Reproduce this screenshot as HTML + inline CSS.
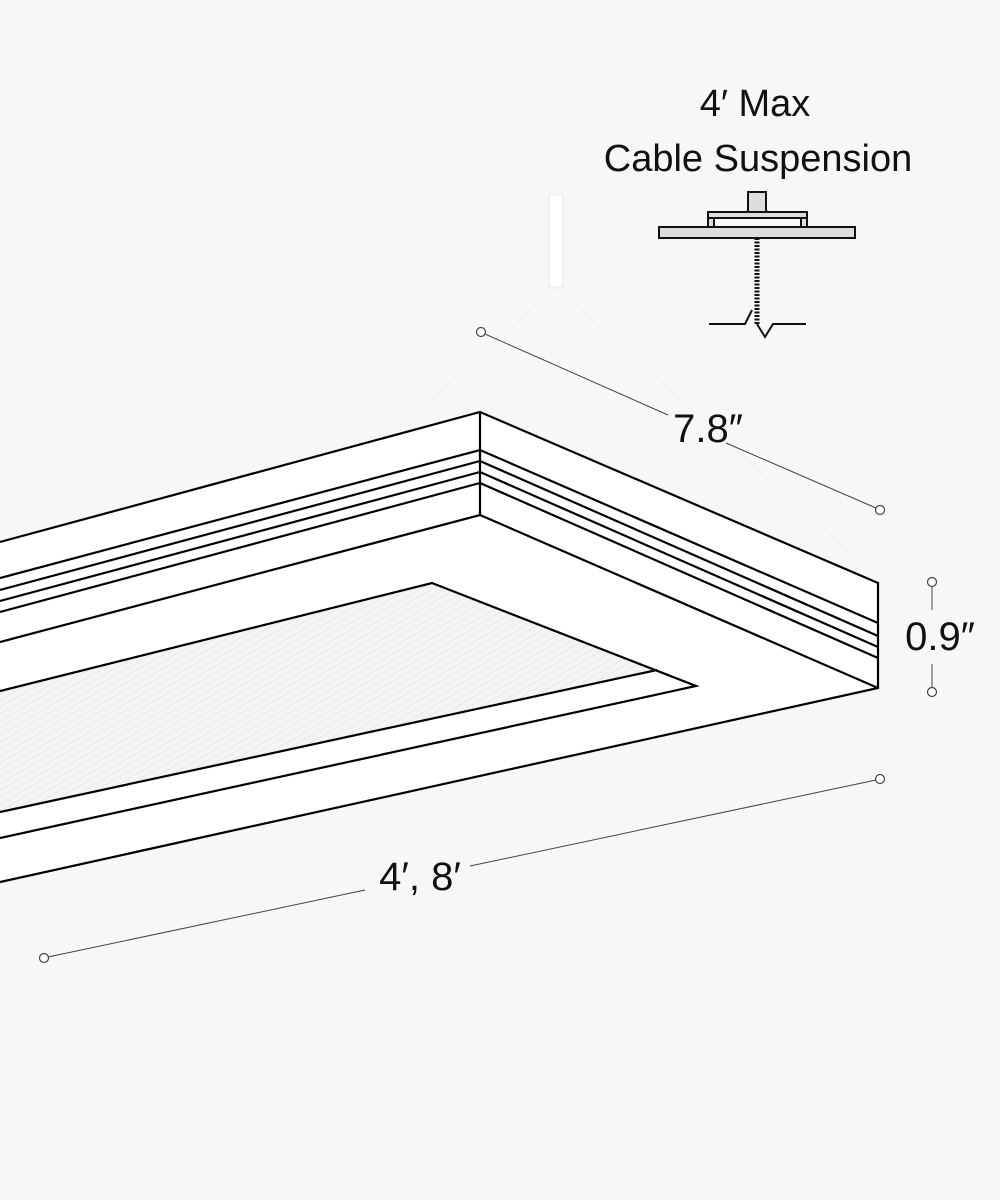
<!DOCTYPE html>
<html><head><meta charset="utf-8"><style>
html,body{margin:0;padding:0;background:#f7f7f7;}
svg{display:block}
text{font-family:"Liberation Sans",sans-serif;fill:#111}
</style></head><body>
<svg width="1000" height="1200" viewBox="0 0 1000 1200" xmlns="http://www.w3.org/2000/svg">
<defs>
<pattern id="h" width="6" height="6" patternUnits="userSpaceOnUse" patternTransform="rotate(60)">
<rect width="6" height="6" fill="#f4f4f4"/><line x1="0" y1="0" x2="0" y2="6" stroke="#e8e8e8" stroke-width="2"/>
</pattern>
</defs>
<rect width="1000" height="1200" fill="#f7f7f7"/>
<rect x="549" y="195" width="14" height="92" fill="#fff" stroke="#eaeaea"/>
<line x1="556" y1="287" x2="420" y2="410" stroke="#efefef"/>
<line x1="556" y1="287" x2="880" y2="580" stroke="#efefef"/>
<polygon points="0,542 480,412 878,583 878,688 0,882" fill="#fff"/>
<polygon points="0,691 432,583 657,670 0,812" fill="url(#h)"/>
<g stroke="#000" stroke-width="2.2" fill="none">
<polyline points="0,542 480,412 878,583 878,688 0,882"/>
<line x1="480" y1="412" x2="480" y2="515"/>
<polyline points="0,578 480,450 878,623"/>
<polyline points="0,590 480,461 878,636"/>
<polyline points="0,601 480,472 878,647"/>
<polyline points="0,612 480,483 878,658"/>
<polyline points="0,642 480,515 878,688"/>
<polyline points="0,691 432,583 696,686 0,838"/>
<line x1="657" y1="670" x2="0" y2="812"/>
</g>
<g stroke="#444" stroke-width="1" fill="none">
<line x1="485" y1="334" x2="668" y2="415"/>
<line x1="726" y1="443" x2="876" y2="508"/>
<line x1="932" y1="586" x2="932" y2="610"/>
<line x1="932" y1="664" x2="932" y2="688"/>
<line x1="48" y1="957" x2="365" y2="890"/>
<line x1="470" y1="866" x2="876" y2="780"/>
</g>
<g stroke="#444" stroke-width="1.2" fill="#fff">
<circle cx="481" cy="332" r="4.5"/><circle cx="880" cy="510" r="4.5"/>
<circle cx="932" cy="582" r="4.5"/><circle cx="932" cy="692" r="4.5"/>
<circle cx="44" cy="958" r="4.5"/><circle cx="880" cy="779" r="4.5"/>
</g>
<text x="708" y="442" font-size="40" text-anchor="middle">7.8″</text>
<text x="940" y="650" font-size="40" text-anchor="middle">0.9″</text>
<text x="420" y="890" font-size="40" text-anchor="middle">4′, 8′</text>
<text x="755" y="116" font-size="38" text-anchor="middle">4′ Max</text>
<text x="758" y="171" font-size="38" text-anchor="middle">Cable Suspension</text>
<g stroke="#111" stroke-width="2">
<path d="M748,211 L748,192 L766,192 L766,211 L770,213 L744,213 Z" fill="#ddd"/>
<rect x="708" y="212" width="99" height="6" fill="#ddd"/>
<rect x="708" y="218" width="6" height="9" fill="#ddd"/>
<rect x="801" y="218" width="6" height="9" fill="#ddd"/>
<rect x="659" y="227" width="196" height="11" fill="#ddd"/>
<line x1="757" y1="238" x2="757" y2="324" stroke-width="5" stroke-dasharray="2 1.5"/>
<polyline points="709,324 745,324 752,310" fill="none"/>
<polyline points="757,324 765,337 773,324 806,324" fill="none"/>
</g>
</svg>
</body></html>
